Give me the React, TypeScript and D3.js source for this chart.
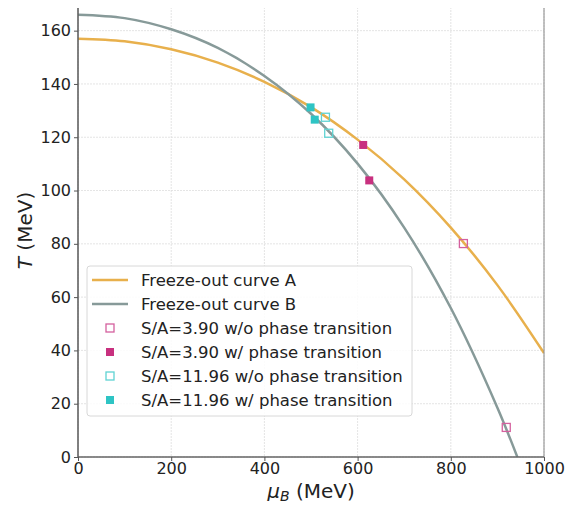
import * as d3 from "d3";
import { useEffect, useRef } from "react";

// curve samples (mu_B in MeV, T in MeV)
const muGrid = [0, 100, 200, 300, 400, 500, 600, 700, 800, 900, 1000];
const curveA = [157, 156, 153, 148, 140.8, 131.3, 119.1, 104.2, 86.1, 64.5, 39];
const muGridB = [0, 100, 200, 300, 400, 500, 600, 700, 800, 900, 950];
const curveB = [166, 164.7, 160.5, 153.5, 143, 128.8, 110.1, 86.1, 55.9, 18.5, -3.3];

// markers
const openMagMu = [827, 919];
const openMagT = [80.1, 11.1];
const fillMagMu = [612, 625];
const fillMagT = [117.1, 103.8];
const openCyanMu = [531, 538];
const openCyanT = [127.5, 121.5];
const fillCyanMu = [499, 508];
const fillCyanT = [131.2, 126.6];

const xTicks = [0, 200, 400, 600, 800, 1000];
const yTicks = [0, 20, 40, 60, 80, 100, 120, 140, 160];

const legendLabels = [
  "Freeze-out curve A",
  "Freeze-out curve B",
  "S/A=3.90 w/o phase transition",
  "S/A=3.90 w/ phase transition",
  "S/A=11.96 w/o phase transition",
  "S/A=11.96 w/ phase transition",
];

const orange = "#e8b04c";
const gray = "#879a99";
const magenta = "#c8307f";
const magentaOpen = "#d4609e";
const cyan = "#2ec4c4";
const cyanOpen = "#5fd3d3";

export default function App() {
  const ref = useRef<SVGSVGElement>(null);

  useEffect(() => {
    const svg = d3.select(ref.current);
    svg.selectAll("*").remove();

    const margin = { top: 4, right: 36, bottom: 52, left: 78 };
    const W = 580, H = 509;
    const width = W - margin.left - margin.right;
    const height = H - margin.top - margin.bottom;
    const font = "DejaVu Sans, sans-serif";

    const g = svg.append("g").attr("transform", `translate(${margin.left},${margin.top})`);

    const x = d3.scaleLinear().domain([0, 1000]).range([0, width]);
    const y = d3.scaleLinear().domain([0, 170]).range([height, 0]);

    svg.append("defs").append("clipPath").attr("id", "clip")
      .append("rect").attr("width", width).attr("height", height);

    // grid
    g.selectAll(".gx").data(xTicks).join("line")
      .attr("x1", (d) => x(d)).attr("x2", (d) => x(d))
      .attr("y1", 0).attr("y2", height)
      .attr("stroke", "#dddddd").attr("stroke-width", 0.8).attr("stroke-dasharray", "2,1");
    g.selectAll(".gy").data(yTicks).join("line")
      .attr("x1", 0).attr("x2", width)
      .attr("y1", (d) => y(d)).attr("y2", (d) => y(d))
      .attr("stroke", "#dddddd").attr("stroke-width", 0.8).attr("stroke-dasharray", "2,1");

    // curves
    const plot = g.append("g").attr("clip-path", "url(#clip)");
    const line = d3.line<[number, number]>()
      .x((d) => x(d[0])).y((d) => y(d[1]))
      .curve(d3.curveCatmullRom);
    plot.append("path")
      .datum(muGrid.map((m, i) => [m, curveA[i]] as [number, number]))
      .attr("d", line).attr("fill", "none").attr("stroke", orange).attr("stroke-width", 2.5);
    plot.append("path")
      .datum(muGridB.map((m, i) => [m, curveB[i]] as [number, number]))
      .attr("d", line).attr("fill", "none").attr("stroke", gray).attr("stroke-width", 2.5);

    const s = 8;
    const drawSquares = (mus: number[], ts: number[], filled: boolean, col: string) => {
      plot.selectAll(null).data(mus).join("rect")
        .attr("x", (d) => x(d) - s / 2)
        .attr("y", (_d, i) => y(ts[i]) - s / 2)
        .attr("width", s).attr("height", s)
        .attr("fill", filled ? col : "none")
        .attr("stroke", col).attr("stroke-width", filled ? 0 : 1.3);
    };
    drawSquares(openMagMu, openMagT, false, magentaOpen);
    drawSquares(fillMagMu, fillMagT, true, magenta);
    drawSquares(openCyanMu, openCyanT, false, cyanOpen);
    drawSquares(fillCyanMu, fillCyanT, true, cyan);

    // spines
    g.append("rect").attr("width", width).attr("height", height)
      .attr("fill", "none").attr("stroke", "#888").attr("stroke-width", 1);
    g.append("line").attr("x1", 0).attr("x2", 0).attr("y1", 0).attr("y2", height)
      .attr("stroke", "#555").attr("stroke-width", 1.2);
    g.append("line").attr("x1", 0).attr("x2", width).attr("y1", height).attr("y2", height)
      .attr("stroke", "#555").attr("stroke-width", 1.2);

    // axes
    const xAxis = g.append("g").attr("transform", `translate(0,${height})`)
      .call(d3.axisBottom(x).tickValues(xTicks).tickSize(4).tickPadding(2).tickFormat(d3.format("d")));
    const yAxis = g.append("g")
      .call(d3.axisLeft(y).tickValues(yTicks).tickSize(4).tickPadding(3).tickFormat(d3.format("d")));
    [xAxis, yAxis].forEach((a) => {
      a.select(".domain").remove();
      a.selectAll("line").attr("stroke", "#555");
      a.selectAll("text").attr("font-family", font).attr("font-size", 16).attr("fill", "#222");
    });

    // axis labels
    const xl = svg.append("text")
      .attr("x", margin.left + width / 2).attr("y", 498)
      .attr("text-anchor", "middle").attr("font-family", font).attr("font-size", 20).attr("fill", "#222");
    xl.append("tspan").attr("font-style", "italic").text("μ");
    xl.append("tspan").attr("font-style", "italic").attr("font-size", 14).attr("dy", 3).text("B");
    xl.append("tspan").attr("dy", -3).text(" (MeV)");

    const yl = svg.append("text")
      .attr("transform", `translate(32,${margin.top + height / 2}) rotate(-90)`)
      .attr("text-anchor", "middle").attr("font-family", font).attr("font-size", 20).attr("fill", "#222");
    yl.append("tspan").attr("font-style", "italic").text("T");
    yl.append("tspan").text(" (MeV)");

    // legend
    const lg = svg.append("g");
    lg.append("rect").attr("x", 87).attr("y", 266).attr("width", 325).attr("height", 150)
      .attr("rx", 3).attr("fill", "white").attr("fill-opacity", 0.85)
      .attr("stroke", "#d8d8d8").attr("stroke-width", 1);
    const rowY = (i: number) => 280 + i * 24;
    legendLabels.forEach((lab, i) => {
      const yy = rowY(i);
      if (i === 0 || i === 1) {
        lg.append("line").attr("x1", 92).attr("x2", 128).attr("y1", yy).attr("y2", yy)
          .attr("stroke", i === 0 ? orange : gray).attr("stroke-width", 2.5);
      } else {
        const filled = i === 3 || i === 5;
        const col = i < 4 ? (filled ? magenta : magentaOpen) : (filled ? cyan : cyanOpen);
        lg.append("rect").attr("x", 110 - 4).attr("y", yy - 4).attr("width", 8).attr("height", 8)
          .attr("fill", filled ? col : "none").attr("stroke", col).attr("stroke-width", filled ? 0 : 1.3);
      }
      lg.append("text").attr("x", 141).attr("y", yy).attr("dy", "0.35em")
        .attr("font-family", font).attr("font-size", 16.5).attr("fill", "#222").text(lab);
    });
  }, []);

  return <svg ref={ref} width={580} height={509} style={{ display: "block", margin: "-8px" }} />;
}
